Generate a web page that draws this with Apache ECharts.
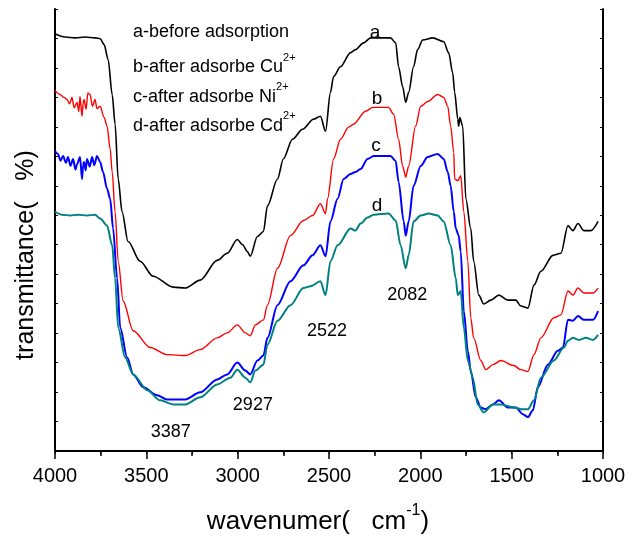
<!DOCTYPE html>
<html><head><meta charset="utf-8">
<script src="https://cdn.jsdelivr.net/npm/echarts@6/dist/echarts.min.js"></script>
<style>html,body{margin:0;padding:0;background:#fff}#c{width:632px;height:540px}</style>
</head><body><div id="c"></div>
<script>
// wavenumber (cm-1), transmittance (arbitrary offset units)
const curveA = [[4000,141.6],[3945,140.5],[3890,140.2],[3835,140.5],[3781,140.2],[3753,139.9],[3731,137.9],[3709,132.8],[3687,121.0],[3671,110.9],[3654,92.3],[3633,81.2],[3600,71.1],[3534,64.4],[3463,59.3],[3353,55.6],[3287,55.3],[3205,58.0],[3112,64.7],[3057,67.1],[3002,71.8],[2974,70.1],[2947,67.7],[2931,66.1],[2892,72.8],[2859,74.5],[2837,83.2],[2782,92.3],[2750,99.1],[2700,105.8],[2645,109.2],[2585,112.6],[2547,113.6],[2519,108.5],[2492,121.7],[2475,127.1],[2437,130.4],[2382,135.2],[2355,136.2],[2311,138.5],[2272,140.2],[2163,140.2],[2135,138.5],[2119,130.4],[2097,123.7],[2080,118.3],[2064,121.7],[2037,130.4],[2015,136.2],[1987,139.5],[1932,140.2],[1872,138.9],[1845,135.2],[1823,128.4],[1812,121.7],[1795,112.6],[1790,110.2],[1784,113.2],[1768,110.2],[1751,85.6],[1724,75.5],[1708,64.4],[1680,52.9],[1653,49.9],[1614,51.2],[1570,52.9],[1521,51.2],[1477,51.2],[1450,49.2],[1411,48.5],[1378,56.3],[1340,61.0],[1274,66.4],[1230,67.1],[1192,76.5],[1165,74.8],[1137,77.2],[1104,74.8],[1066,74.8],[1027,77.9]];
const curveB = [[4000,122.3],[3973,121.0],[3950,120.0],[3934,119.3],[3920,117.8],[3907,120.0],[3895,116.5],[3879,118.3],[3870,115.2],[3863,120.3],[3852,113.6],[3846,118.0],[3841,119.3],[3830,116.0],[3820,121.5],[3808,121.0],[3795,117.0],[3781,119.3],[3770,116.2],[3753,117.0],[3731,113.2],[3715,110.2],[3698,102.5],[3687,94.7],[3671,81.2],[3654,64.4],[3627,50.9],[3572,40.8],[3479,35.1],[3386,32.7],[3287,32.4],[3205,34.4],[3112,38.4],[3057,40.1],[3002,42.8],[2958,40.1],[2931,39.1],[2903,42.8],[2859,44.5],[2837,49.5],[2782,62.0],[2711,73.1],[2640,78.2],[2590,79.9],[2547,83.9],[2519,80.6],[2508,85.6],[2475,99.1],[2437,105.8],[2393,109.9],[2366,110.9],[2300,115.3],[2261,116.6],[2174,116.6],[2146,114.3],[2119,105.8],[2097,96.7],[2080,93.0],[2064,96.7],[2026,110.2],[1998,117.0],[1960,118.6],[1905,121.0],[1872,120.0],[1850,117.0],[1834,110.2],[1817,101.4],[1812,92.3],[1795,91.7],[1779,93.4],[1762,81.2],[1740,64.4],[1724,45.2],[1708,38.4],[1669,30.7],[1642,27.6],[1603,29.3],[1559,30.7],[1488,29.0],[1450,27.6],[1411,27.0],[1378,32.7],[1340,38.4],[1269,45.2],[1230,46.2],[1192,54.3],[1165,52.9],[1137,55.3],[1104,53.6],[1055,53.6],[1027,55.3]];
const curveC = [[4000,101.8],[3984,100.8],[3970,98.5],[3956,100.1],[3940,97.8],[3929,99.8],[3915,96.8],[3901,99.1],[3888,95.5],[3879,97.4],[3863,99.8],[3852,92.3],[3846,97.0],[3841,98.1],[3832,95.2],[3825,99.1],[3810,96.5],[3797,99.8],[3785,97.0],[3770,100.1],[3753,98.1],[3737,94.7],[3715,89.0],[3698,85.6],[3682,75.5],[3660,58.6],[3643,41.8],[3605,31.7],[3572,26.0],[3517,21.6],[3441,18.9],[3386,17.5],[3287,17.5],[3205,19.9],[3112,24.3],[3057,26.0],[3002,30.0],[2958,27.3],[2931,26.0],[2892,30.7],[2859,32.4],[2837,38.4],[2782,49.5],[2711,57.6],[2640,63.0],[2590,66.4],[2547,69.8],[2519,66.1],[2492,77.9],[2453,85.6],[2420,92.3],[2382,94.0],[2355,94.7],[2327,95.7],[2289,99.1],[2256,100.1],[2163,100.1],[2135,98.4],[2119,91.3],[2091,77.9],[2080,73.1],[2064,77.9],[2037,90.0],[1998,96.7],[1960,99.8],[1905,100.8],[1872,99.1],[1850,94.7],[1834,90.0],[1817,81.2],[1806,75.5],[1790,73.1],[1779,67.7],[1762,47.5],[1740,34.0],[1724,27.3],[1697,18.2],[1669,14.8],[1642,14.2],[1603,15.8],[1570,17.2],[1521,14.8],[1477,14.8],[1439,12.5],[1411,11.5],[1384,13.8],[1357,21.6],[1302,29.3],[1247,34.0],[1219,35.1],[1192,44.5],[1165,44.2],[1137,45.8],[1104,44.5],[1055,44.5],[1027,47.5]];
const curveD = [[4000,81.2],[3962,80.2],[3918,79.9],[3874,80.2],[3825,79.9],[3781,80.2],[3753,78.9],[3715,76.5],[3687,69.8],[3671,58.6],[3654,41.8],[3616,31.7],[3572,26.0],[3495,20.6],[3424,17.2],[3353,15.8],[3287,15.8],[3205,18.2],[3112,22.6],[3040,24.9],[3002,27.6],[2958,24.9],[2931,23.3],[2903,27.3],[2859,29.3],[2837,36.1],[2782,44.2],[2711,49.5],[2640,55.3],[2601,55.9],[2547,57.6],[2519,52.9],[2492,64.4],[2453,69.8],[2382,75.5],[2355,74.8],[2327,77.2],[2289,79.2],[2256,80.2],[2174,80.6],[2135,78.2],[2108,69.8],[2080,62.0],[2064,66.4],[2037,77.9],[1998,79.9],[1954,80.6],[1905,79.9],[1872,77.9],[1834,69.8],[1806,58.6],[1795,52.9],[1779,54.3],[1762,41.8],[1740,30.7],[1713,24.9],[1686,15.8],[1653,13.1],[1603,15.8],[1559,15.8],[1488,14.8],[1450,14.2],[1411,14.2],[1378,17.2],[1340,24.9],[1269,30.7],[1214,35.1],[1192,37.4],[1165,38.4],[1132,37.7],[1093,38.4],[1055,37.7],[1027,39.4]];
const curveLetters = [['a',2245,141.9],['b',2234,119.3],['c',2240,103.5],['d',2234,83.2]];
const peakLabels = [['2082',2069,52.9],['2522',2508,40.4],['2927',2914,15.5],['3387',3364,6.2]];
const legendLines = [['a-before adsorption',''],['b-after adsorbe Cu','2+'],['c-after adsorbe Ni','2+'],['d-after adsorbe Cd','2+']];
const xTicks = {min:1000,max:4000,interval:500};

const FONT = "'Liberation Sans', Arial, sans-serif";
const chart = echarts.init(document.getElementById('c'), null, {renderer:'canvas'});
function line(data,color,w){return {type:'line',data:data,showSymbol:false,symbol:'none',smooth:0.3,smoothMonotone:'x',lineStyle:{color:color,width:w},itemStyle:{color:color},animation:false,z:3};}
const legendGraphics = legendLines.map((l,i)=>({
  type:'text', left:133, top:23+i*29.3, z:10,
  style:{text:'{m|'+l[0]+'}'+(l[1]?'{s|'+l[1]+'}':''), rich:{m:{fontSize:18,fontFamily:FONT,fill:'#000',lineHeight:24,verticalAlign:'bottom'},s:{fontSize:11,fontFamily:FONT,fill:'#000',lineHeight:24,verticalAlign:'top'}}}
}));
const axisLine = {show:true,lineStyle:{color:'#000',width:2}};
function textLabel(size){return {show:true,position:[0,0],align:'center',verticalAlign:'middle',formatter:p=>p.name,fontSize:size,fontFamily:FONT,color:'#000',textBorderWidth:0,opacity:1};}
chart.setOption({
  animation:false,
  backgroundColor:'#fff',
  grid:{left:55,right:29,top:9,bottom:86,containLabel:false},
  xAxis:[{
    type:'value',inverse:true,min:xTicks.min,max:xTicks.max,interval:xTicks.interval,position:'bottom',
    axisLine:axisLine,
    axisTick:{show:true,inside:false,length:8,lineStyle:{color:'#000',width:1.5}},
    minorTick:{show:true,splitNumber:2,length:5,lineStyle:{color:'#000',width:1.5}},
    axisLabel:{fontSize:20,color:'#000',fontFamily:FONT,margin:15,formatter:v=>String(v)},
    splitLine:{show:false},
    name:'{n|wavenumer(   cm}{s|-1}{n|)}',nameLocation:'middle',nameGap:52,
    nameTextStyle:{padding:[0,22,0,0],rich:{n:{fontSize:26,fontFamily:FONT,color:'#000',lineHeight:32,verticalAlign:'bottom'},s:{fontSize:16,fontFamily:FONT,color:'#000',lineHeight:32,verticalAlign:'top'}}}
  },{
    type:'value',inverse:true,min:xTicks.min,max:xTicks.max,interval:250,position:'top',
    axisLine:axisLine,axisTick:{show:true,inside:true,length:3,lineStyle:{color:'#000',width:1}},
    axisLabel:{show:false},splitLine:{show:false}
  }],
  yAxis:[{
    type:'value',min:0,max:150,interval:10,position:'left',
    axisLine:axisLine,axisTick:{show:true,inside:true,length:3,lineStyle:{color:'#000',width:1}},
    axisLabel:{show:false},splitLine:{show:false},
    name:'transmittance(   %)',nameLocation:'middle',nameGap:16,
    nameTextStyle:{fontSize:25,fontFamily:FONT,color:'#000',padding:[0,50,0,0]}
  },{
    type:'value',min:0,max:150,interval:10,position:'right',
    axisLine:axisLine,axisTick:{show:true,inside:true,length:3,lineStyle:{color:'#000',width:1}},
    axisLabel:{show:false},splitLine:{show:false}
  }],
  graphic:legendGraphics,
  series:[
    line(curveA,'#000000',1.6),
    line(curveB,'#ff0000',1.4),
    line(curveC,'#0000ff',2),
    line(curveD,'#008080',2),
    {type:'scatter',symbolSize:1,itemStyle:{color:'rgba(0,0,0,0)'},silent:true,animation:false,z:5,
     data:curveLetters.map(d=>({value:[d[1],d[2]],name:d[0]})),label:textLabel(19)},
    {type:'scatter',symbolSize:1,itemStyle:{color:'rgba(0,0,0,0)'},silent:true,animation:false,z:5,
     data:peakLabels.map(d=>({value:[d[1],d[2]],name:d[0]})),label:textLabel(18)}
  ]
});
</script></body></html>
